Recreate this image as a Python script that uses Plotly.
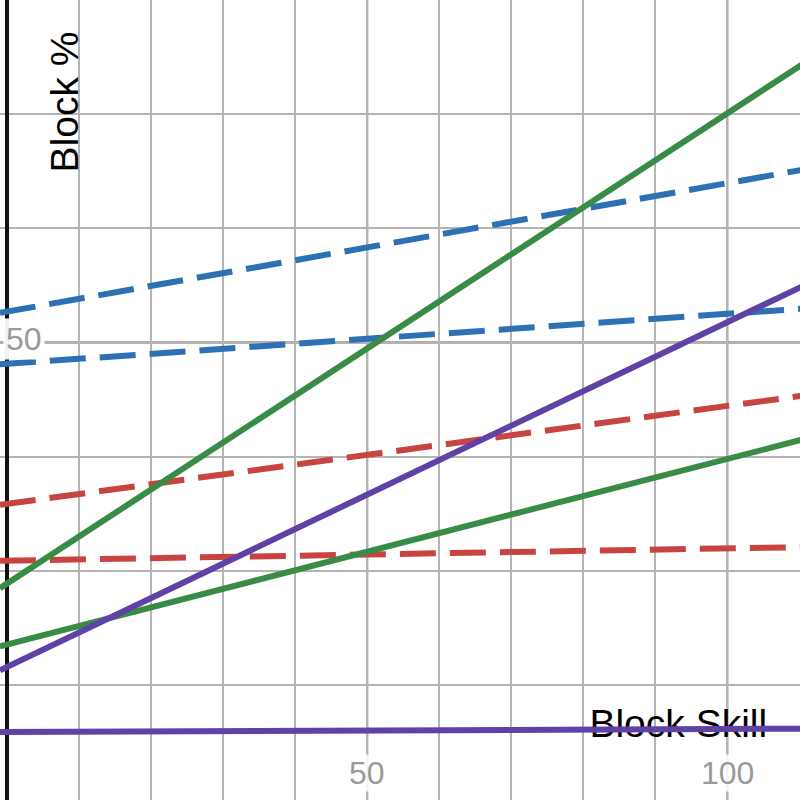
import plotly.graph_objects as go

# block skill at the left and right edges of the view
skill = [-1, 111]

# block %, [at skill -1, at skill 111]
red_high = [35.8, 45.4]
red_low = [30.9, 32.1]
blue_high = [52.6, 65.2]
blue_low = [48.1, 53.0]
green_high = [28.5, 74.6]
green_low = [23.4, 41.6]
purple_high = [21.3, 55.1]
purple_low = [15.9, 16.2]

RED = "#c74440"
BLUE = "#2d70b3"
GREEN = "#388c46"
PURPLE = "#6042a6"
DASH = "36px,14px"
W = 6

series = [
    (red_high, RED, DASH),
    (red_low, RED, DASH),
    (blue_high, BLUE, DASH),
    (blue_low, BLUE, DASH),
    (green_high, GREEN, "solid"),
    (green_low, GREEN, "solid"),
    (purple_high, PURPLE, "solid"),
    (purple_low, PURPLE, "solid"),
]

font = "Liberation Sans, Arial, sans-serif"

fig = go.Figure()

# axis label as a text trace so the purple line is drawn over it
fig.add_trace(go.Scatter(x=[93.2], y=[16.3], mode="text", text=["Block Skill"],
                         textfont=dict(family=font, size=39, color="black"),
                         hoverinfo="skip"))

for ys, color, dash in series:
    fig.add_trace(go.Scatter(x=skill, y=ys, mode="lines",
                             line=dict(color=color, width=W, dash=dash)))

# darker major grid lines
for xv in [50, 100]:
    fig.add_shape(type="line", x0=xv, x1=xv, y0=0, y1=1, yref="paper",
                  line=dict(color="#5a5a5a", width=2), layer="below")
fig.add_shape(type="line", x0=0, x1=1, xref="paper", y0=50, y1=50,
              line=dict(color="#5a5a5a", width=2), layer="below")

tick = dict(family=font, size=32, color="#9a9a9a")
fig.add_annotation(x=2.4, y=50.3, text="50", showarrow=False, font=tick,
                   bgcolor="rgba(255,255,255,0.95)", borderpad=2)
fig.add_annotation(x=50, y=12.3, text="50", showarrow=False, font=tick,
                   bgcolor="rgba(255,255,255,0.85)", borderpad=0)
fig.add_annotation(x=100, y=12.3, text="100", showarrow=False, font=tick,
                   bgcolor="rgba(255,255,255,0.85)", borderpad=0)
fig.add_annotation(x=8.0, y=71.1, text="Block %", showarrow=False, textangle=-90,
                   font=dict(family=font, size=39, color="black"))

fig.update_xaxes(range=[-0.99, 110.1], dtick=10, showgrid=True,
                 gridcolor="#b4b4b4", gridwidth=1.5, showticklabels=False,
                 zeroline=True, zerolinecolor="#111111", zerolinewidth=3.5,
                 showline=False)
fig.update_yaxes(range=[9.95, 80], dtick=10, showgrid=True,
                 gridcolor="#b4b4b4", gridwidth=1.5, showticklabels=False,
                 zeroline=False, showline=False)
fig.update_layout(width=800, height=800, margin=dict(t=0, l=0, r=0, b=0),
                  plot_bgcolor="white", paper_bgcolor="white", showlegend=False)

# drop the page's default body margin so the plot sits at the window corner
fig.write_html("out.html", config={"displayModeBar": False},
               post_script="document.body.style.margin='0';")
